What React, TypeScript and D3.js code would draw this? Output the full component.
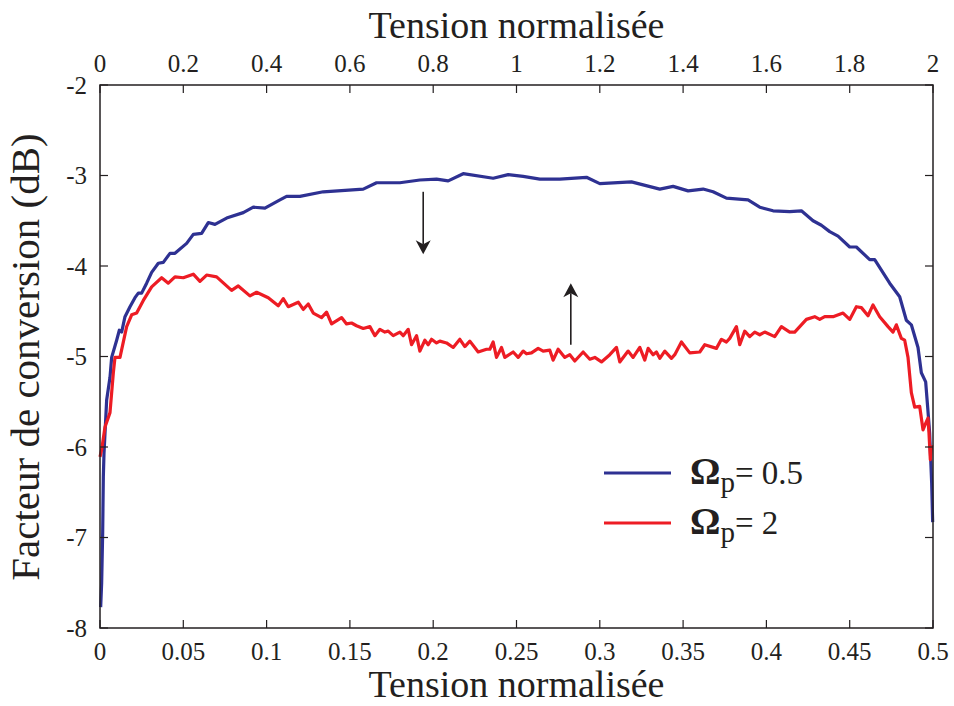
import React from "react";
import * as d3 from "d3";

// ---- data ----
const blueX = [0.0004, 0.001, 0.0016, 0.002, 0.0024, 0.004, 0.006, 0.007, 0.01, 0.0116, 0.013, 0.015, 0.018, 0.021, 0.023, 0.025, 0.028, 0.031, 0.035, 0.038, 0.042, 0.045, 0.052, 0.056, 0.061, 0.065, 0.069, 0.076, 0.086, 0.092, 0.099, 0.108, 0.112, 0.12, 0.134, 0.158, 0.166, 0.18, 0.192, 0.202, 0.209, 0.218, 0.236, 0.245, 0.254, 0.264, 0.276, 0.292, 0.3, 0.319, 0.336, 0.344, 0.353, 0.362, 0.368, 0.376, 0.389, 0.396, 0.404, 0.414, 0.421, 0.428, 0.433, 0.438, 0.443, 0.45, 0.454, 0.462, 0.465, 0.474, 0.48, 0.484, 0.487, 0.491, 0.493, 0.4956, 0.4968, 0.498, 0.4992, 0.4998];
const blueY = [-7.77, -7.5, -6.95, -6.33, -6.07, -5.48, -5.23, -5.01, -4.82, -4.71, -4.73, -4.56, -4.45, -4.35, -4.3, -4.3, -4.19, -4.07, -3.97, -3.96, -3.86, -3.86, -3.75, -3.65, -3.64, -3.52, -3.54, -3.47, -3.41, -3.35, -3.36, -3.27, -3.23, -3.23, -3.18, -3.15, -3.08, -3.08, -3.05, -3.04, -3.06, -2.98, -3.03, -2.99, -3.01, -3.04, -3.04, -3.02, -3.09, -3.07, -3.15, -3.12, -3.17, -3.15, -3.18, -3.25, -3.27, -3.35, -3.39, -3.4, -3.39, -3.5, -3.55, -3.62, -3.67, -3.79, -3.79, -3.93, -3.93, -4.19, -4.34, -4.6, -4.65, -4.9, -5.18, -5.28, -5.56, -5.85, -6.4, -6.83];

const redX = [0, 0.001, 0.003, 0.006, 0.008, 0.009, 0.012, 0.016, 0.019, 0.022, 0.026, 0.031, 0.037, 0.041, 0.045, 0.05, 0.056, 0.06, 0.064, 0.07, 0.079, 0.083, 0.09, 0.094, 0.101, 0.107, 0.11, 0.113, 0.119, 0.122, 0.125, 0.128, 0.133, 0.136, 0.139, 0.145, 0.148, 0.151, 0.154, 0.158, 0.162, 0.165, 0.168, 0.171, 0.173, 0.176, 0.18, 0.182, 0.185, 0.187, 0.19, 0.192, 0.195, 0.197, 0.199, 0.202, 0.204, 0.208, 0.212, 0.216, 0.219, 0.222, 0.227, 0.232, 0.234, 0.236, 0.238, 0.241, 0.243, 0.248, 0.251, 0.254, 0.256, 0.259, 0.263, 0.266, 0.27, 0.272, 0.275, 0.279, 0.282, 0.285, 0.29, 0.294, 0.297, 0.301, 0.306, 0.31, 0.312, 0.317, 0.32, 0.324, 0.327, 0.329, 0.332, 0.334, 0.336, 0.339, 0.343, 0.345, 0.349, 0.354, 0.36, 0.363, 0.37, 0.373, 0.376, 0.378, 0.382, 0.384, 0.387, 0.39, 0.393, 0.396, 0.399, 0.405, 0.409, 0.414, 0.417, 0.424, 0.429, 0.432, 0.435, 0.44, 0.446, 0.45, 0.454, 0.457, 0.461, 0.464, 0.468, 0.473, 0.476, 0.478, 0.481, 0.483, 0.485, 0.487, 0.489, 0.492, 0.494, 0.4956, 0.497, 0.4976, 0.4984, 0.4992];
const redY = [-6.11, -6.03, -5.78, -5.62, -5.18, -5.01, -5.01, -4.67, -4.54, -4.52, -4.38, -4.23, -4.13, -4.19, -4.12, -4.13, -4.09, -4.17, -4.1, -4.12, -4.27, -4.22, -4.33, -4.29, -4.35, -4.44, -4.36, -4.45, -4.4, -4.48, -4.42, -4.52, -4.57, -4.51, -4.64, -4.57, -4.64, -4.63, -4.66, -4.69, -4.67, -4.77, -4.7, -4.73, -4.72, -4.77, -4.73, -4.77, -4.7, -4.87, -4.77, -4.94, -4.82, -4.87, -4.81, -4.85, -4.83, -4.85, -4.9, -4.81, -4.89, -4.83, -4.95, -4.92, -4.92, -4.84, -5.01, -4.9, -5.01, -4.95, -5.01, -4.94, -4.97, -4.96, -4.91, -4.94, -4.93, -5.04, -4.92, -5.01, -4.98, -5.05, -4.95, -5.03, -5.01, -5.06, -4.98, -4.9, -5.06, -4.94, -5.01, -4.9, -5.04, -4.91, -4.98, -4.95, -5.02, -4.94, -5.02, -4.98, -4.84, -4.96, -4.95, -4.87, -4.91, -4.81, -4.84, -4.8, -4.67, -4.87, -4.72, -4.78, -4.73, -4.76, -4.73, -4.78, -4.67, -4.73, -4.73, -4.59, -4.56, -4.59, -4.56, -4.56, -4.52, -4.59, -4.45, -4.46, -4.55, -4.43, -4.56, -4.67, -4.73, -4.65, -4.8, -4.82, -5.01, -5.4, -5.56, -5.55, -5.81, -5.74, -5.68, -5.85, -6.14, -5.98];

const bottomTicks = [0, 0.05, 0.1, 0.15, 0.2, 0.25, 0.3, 0.35, 0.4, 0.45, 0.5];
const topTicks = [0, 0.2, 0.4, 0.6, 0.8, 1, 1.2, 1.4, 1.6, 1.8, 2];
const yTicks = [-8, -7, -6, -5, -4, -3, -2];

const seriesNames = ["0.5", "2"];
const seriesColors = ["#2E3192", "#ED1C24"];

// arrows: [x, yStart, yTip]
const arrowX = [0.194, 0.2826];
const arrowFrom = [-3.18, -4.87];
const arrowTo = [-3.87, -4.19];

const xTitle = "Tension normalisée";
const yTitle = "Facteur de conversion (dB)";

const W = 954, H = 706;
const M = { left: 100, right: 933, top: 85, bottom: 628 };
const FONT = '"Liberation Serif", "Times New Roman", Times, "DejaVu Serif", serif';
const AX = "#231F20";

export default function App() {
  const x = d3.scaleLinear().domain([0, 0.5]).range([M.left, M.right]);
  const xTop = d3.scaleLinear().domain([0, 2]).range([M.left, M.right]);
  const y = d3.scaleLinear().domain([-8, -2]).range([M.bottom, M.top]);
  const fmt = (d: number) => String(+d.toFixed(2));

  const line = d3
    .line<[number, number]>()
    .x((d) => x(d[0]))
    .y((d) => y(d[1]));

  const blue: [number, number][] = blueX.map((v, i) => [v, blueY[i]]);
  const red: [number, number][] = redX.map((v, i) => [v, redY[i]]);
  const tick = 8;

  const legendY = [473, 523];
  const ts = { fontFamily: FONT };

  return (
    <svg
      width={W}
      height={H}
      style={{ position: "absolute", left: 0, top: 0, background: "#fff", fontFamily: FONT }}
    >
      <rect x={0} y={0} width={W} height={H} fill="#fff" />
      {/* curves */}
      <path d={line(blue) || ""} fill="none" stroke={seriesColors[0]} strokeWidth={3.2} strokeLinejoin="round" />
      <path d={line(red) || ""} fill="none" stroke={seriesColors[1]} strokeWidth={3.2} strokeLinejoin="round" />

      {/* frame */}
      <rect x={M.left} y={M.top} width={M.right - M.left} height={M.bottom - M.top} fill="none" stroke={AX} strokeWidth={1.5} />

      {/* bottom ticks */}
      {bottomTicks.map((t) => (
        <g key={"b" + t}>
          <line x1={x(t)} x2={x(t)} y1={M.bottom} y2={M.bottom - tick} stroke={AX} strokeWidth={1.2} />
          <text x={x(t)} y={660} textAnchor="middle" fontSize={25} fill={AX} style={ts}>
            {fmt(t)}
          </text>
        </g>
      ))}
      {/* top ticks */}
      {topTicks.map((t) => (
        <g key={"t" + t}>
          <line x1={xTop(t)} x2={xTop(t)} y1={M.top} y2={M.top + tick} stroke={AX} strokeWidth={1.2} />
          <text x={xTop(t)} y={72} textAnchor="middle" fontSize={25} fill={AX} style={ts}>
            {fmt(t)}
          </text>
        </g>
      ))}
      {/* y ticks */}
      {yTicks.map((t) => (
        <g key={"y" + t}>
          <line x1={M.left} x2={M.left + tick} y1={y(t)} y2={y(t)} stroke={AX} strokeWidth={1.2} />
          <line x1={M.right} x2={M.right - tick} y1={y(t)} y2={y(t)} stroke={AX} strokeWidth={1.2} />
          <text x={87} y={y(t)} dy="0.35em" textAnchor="end" fontSize={25} fill={AX} style={ts}>
            {t}
          </text>
        </g>
      ))}

      {/* titles */}
      <text x={(M.left + M.right) / 2} y={38} textAnchor="middle" fontSize={38} fill={AX} style={ts}>
        {xTitle}
      </text>
      <text x={(M.left + M.right) / 2} y={697} textAnchor="middle" fontSize={38} fill={AX} style={ts}>
        {xTitle}
      </text>
      <text
        transform={`translate(39, 357) rotate(-90)`}
        textAnchor="middle"
        fontSize={41}
        fill={AX}
        style={ts}
      >
        {yTitle}
      </text>

      {/* arrows */}
      {arrowX.map((ax, i) => {
        const px = x(ax);
        const y0 = y(arrowFrom[i]);
        const y1 = y(arrowTo[i]);
        const dir = y1 > y0 ? 1 : -1;
        const hl = 14, hw = 7.5, notch = 4;
        const head = `M${px},${y1} L${px - hw},${y1 - dir * hl} L${px},${y1 - dir * (hl - notch)} L${px + hw},${y1 - dir * hl} Z`;
        return (
          <g key={"a" + i}>
            <line x1={px} x2={px} y1={y0} y2={y1 - dir * (hl - notch)} stroke={AX} strokeWidth={1.6} />
            <path d={head} fill={AX} />
          </g>
        );
      })}

      {/* legend */}
      {seriesNames.map((n, i) => (
        <g key={"l" + i}>
          <line x1={604} x2={671} y1={legendY[i]} y2={legendY[i]} stroke={seriesColors[i]} strokeWidth={3.2} />
          <text x={690} y={legendY[i] + 11} fill={AX} fontSize={33} style={ts}>
            <tspan fontWeight="bold" fontSize={38}>Ω</tspan>
            <tspan fontSize={29} dy={8}>p</tspan>
            <tspan dy={-8}>{"= " + n}</tspan>
          </text>
        </g>
      ))}
    </svg>
  );
}
